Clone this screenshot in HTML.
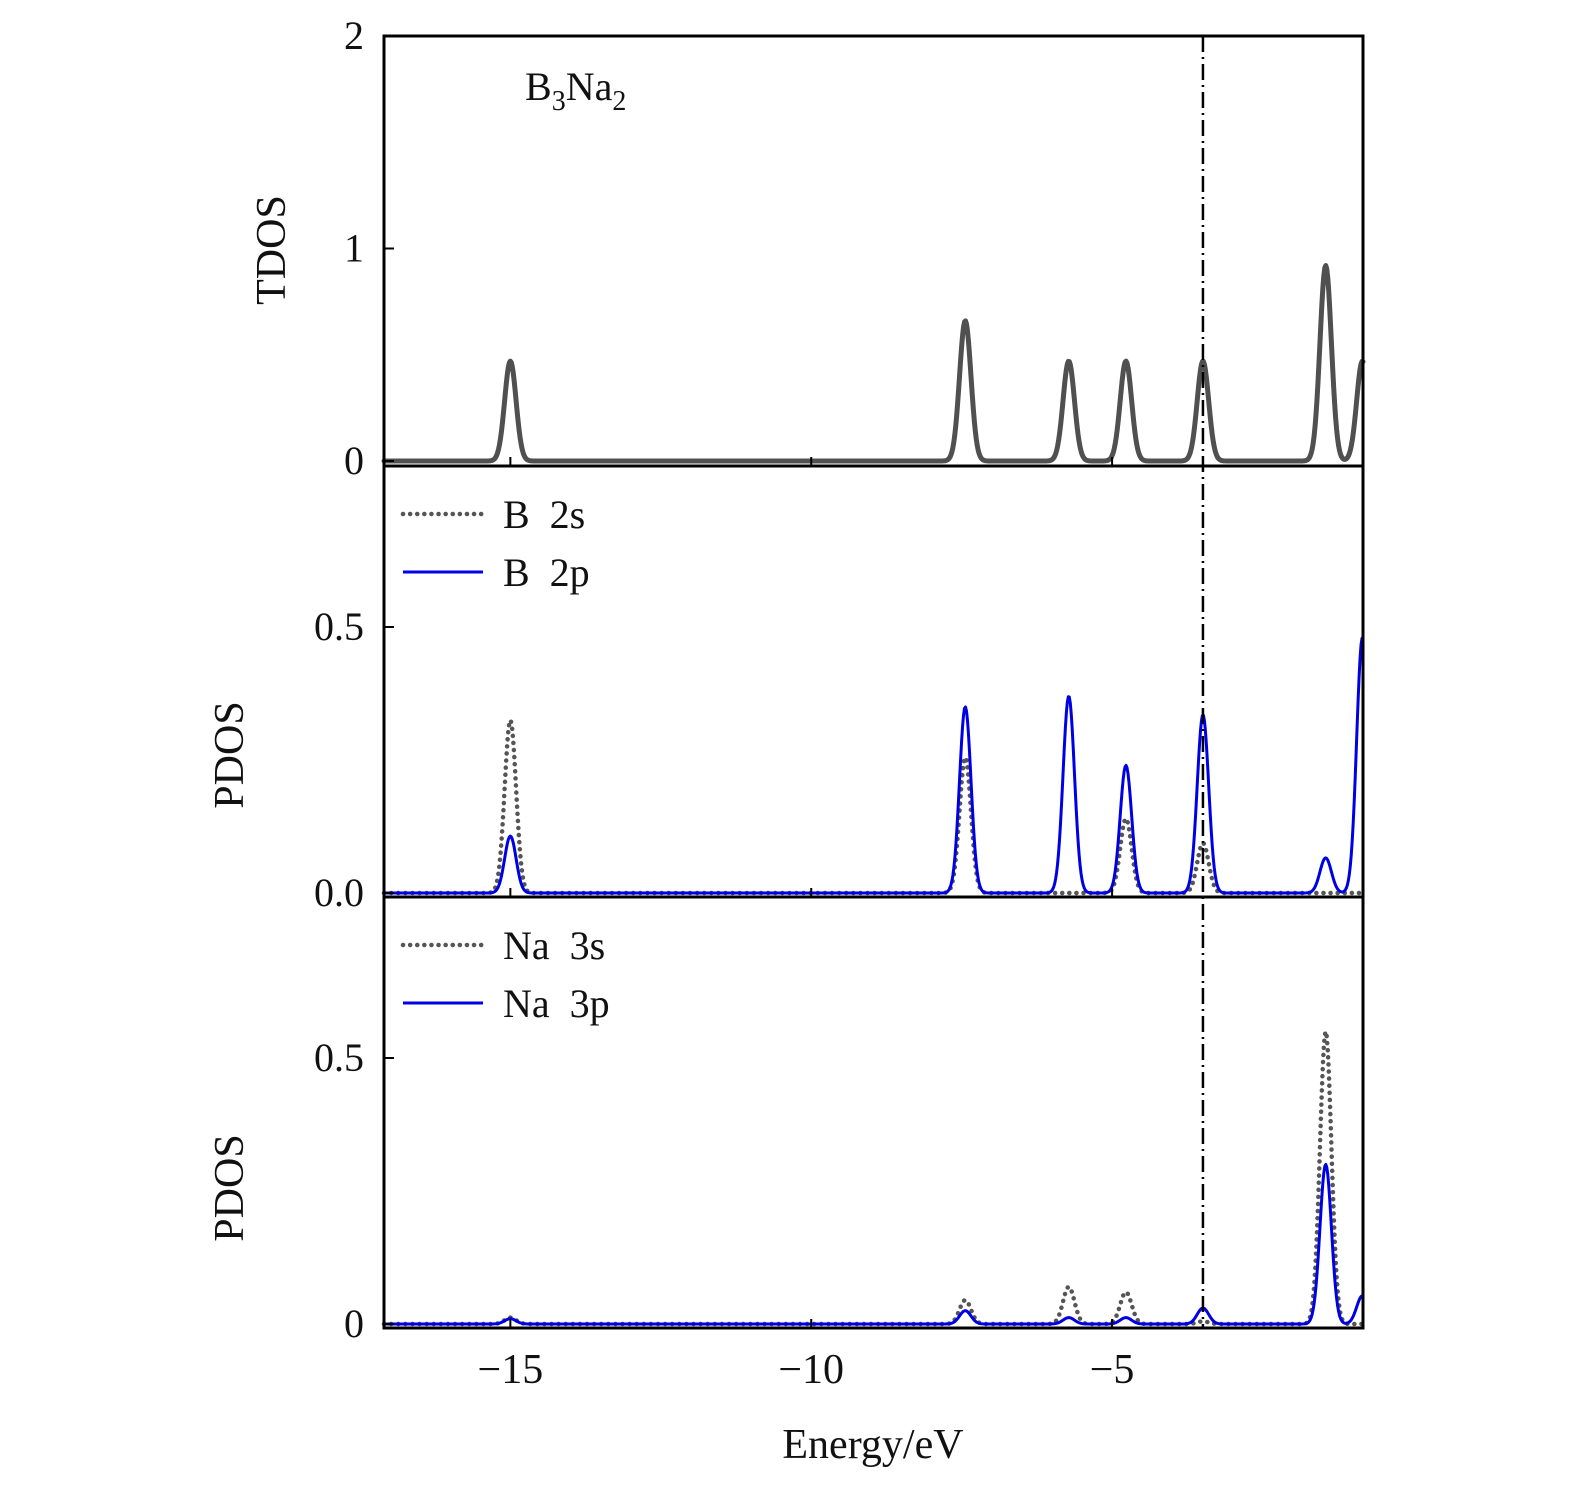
<!DOCTYPE html>
<html><head><meta charset="utf-8"><style>
body{margin:0;background:#fff}
text{font-family:"Liberation Serif",serif;fill:#111}
</style></head><body>
<svg id="chart" width="1575" height="1486" xmlns="http://www.w3.org/2000/svg">
<g id="plots"></g>
<text x="525" y="100" font-size="40">B<tspan font-size="28" dy="10">3</tspan><tspan dy="-10">Na</tspan><tspan font-size="28" dy="10">2</tspan></text>
<text x="873" y="1458" font-size="42" text-anchor="middle">Energy/eV</text>
<text transform="translate(285,250) rotate(-90)" font-size="42" text-anchor="middle">TDOS</text>
<text transform="translate(243,755) rotate(-90)" font-size="42" text-anchor="middle">PDOS</text>
<text transform="translate(243,1188) rotate(-90)" font-size="42" text-anchor="middle">PDOS</text>
</svg>
<script>
const peakCenters=[-15.0,-7.44,-5.72,-4.77,-3.49,-1.45,-0.84];
const tdos=[0.47,0.66,0.47,0.47,0.47,0.92,0.47];
const b2s=[0.325,0.255,0.0,0.14,0.094,0.0,0.0];
const b2p=[0.107,0.35,0.37,0.24,0.335,0.066,0.48];
const na3s=[0.012,0.045,0.07,0.06,0.005,0.55,0.0];
const na3p=[0.01,0.025,0.012,0.012,0.03,0.30,0.053];
const xTicks=[-15,-10,-5];
const xTickLabels=["\u221215","\u221210","\u22125"];
const tdosTicks=[0,1,2];const tdosTickLabels=["0","1","2"];
const bTicks=[0,0.5];const bTickLabels=["0.0","0.5"];
const naTicks=[0,0.5];const naTickLabels=["0","0.5"];
const fermi=-3.49;
const X0=-17.1,X1=-0.83,PL=384,PR=1363;
const sx=e=>PL+(e-X0)/(X1-X0)*(PR-PL);
const NS='http://www.w3.org/2000/svg';
const g=document.getElementById('plots');
function mk(t,a){const e=document.createElementNS(NS,t);for(const k in a)e.setAttribute(k,a[k]);g.appendChild(e);return e;}
const sig=0.095;
function curve(vals,sy,top,bot){let d='';for(let i=0;i<=1000;i++){const e=X0+(X1-X0)*i/1000;let v=0;peakCenters.forEach((c,j)=>{v+=vals[j]*Math.exp(-((e-c)**2)/(2*sig*sig));});let y=Math.max(top,Math.min(bot,sy(v)));d+=(i?'L':'M')+sx(e).toFixed(2)+' '+y.toFixed(2);}return d;}
const panels=[
 {top:36,bot:466,sy:v=>461-v*212.5,ticks:tdosTicks,labels:tdosTickLabels,name:'tdos',series:[{v:tdos,c:'#505050',w:5,n:'tdos-line'}]},
 {top:466,bot:897,sy:v=>893-v*532,ticks:bTicks,labels:bTickLabels,name:'pdos-b',series:[{v:b2s,c:'#555',w:4.5,dash:'0.1 7',n:'b-2s-line'},{v:b2p,c:'#0000e6',w:3,n:'b-2p-line'}],leg:['B  2s','B  2p']},
 {top:897,bot:1328,sy:v=>1324-v*532,ticks:naTicks,labels:naTickLabels,name:'pdos-na',series:[{v:na3s,c:'#555',w:4.5,dash:'0.1 7',n:'na-3s-line'},{v:na3p,c:'#0000e6',w:3,n:'na-3p-line'}],leg:['Na  3s','Na  3p']}
];
panels.forEach((p,pi)=>{
 p.series.forEach(s=>{const e=mk('path',{d:curve(s.v,p.sy,p.top,p.bot),fill:'none',stroke:s.c,'stroke-width':s.w,'stroke-linecap':'round','stroke-linejoin':'round'});if(s.dash)e.setAttribute('stroke-dasharray',s.dash);
 
 });
 p.ticks.forEach((t,i)=>{const y=p.sy(t);mk('line',{x1:PL,x2:PL+10,y1:y,y2:y,stroke:'#000','stroke-width':2});
 const tx=mk('text',{x:PL-20,y:y+13,'font-size':40,'text-anchor':'end'});tx.textContent=p.labels[i];
 
 });
 xTicks.forEach(t=>{mk('line',{x1:sx(t),x2:sx(t),y1:p.bot,y2:p.bot-9,stroke:'#000','stroke-width':2});});
 const r=mk('rect',{x:PL,y:p.top,width:PR-PL,height:p.bot-p.top,fill:'none',stroke:'#000','stroke-width':3});
 
 
 if(p.leg){p.leg.forEach((l,i)=>{const y=p.top+48+i*58;const ln=mk('line',{x1:403,x2:483,y1:y,y2:y,stroke:p.series[i].c,'stroke-width':p.series[i].w});if(p.series[i].dash){ln.setAttribute('stroke-dasharray',p.series[i].dash);ln.setAttribute('stroke-linecap','round');}
 const tx=mk('text',{x:503,y:y+14,'font-size':40});tx.textContent=l;tx.setAttribute('xml:space','preserve');tx.style.whiteSpace='pre';
 
 });}
});
const fl=mk('line',{x1:sx(fermi),x2:sx(fermi),y1:36,y2:1328,stroke:'#000','stroke-width':2.5,'stroke-dasharray':'16 5 2 5'});


xTicks.forEach((t,i)=>{const tx=mk('text',{x:sx(t),y:1383,'font-size':42,'text-anchor':'middle'});tx.textContent=xTickLabels[i];
 
 });
</script>
</body></html>
